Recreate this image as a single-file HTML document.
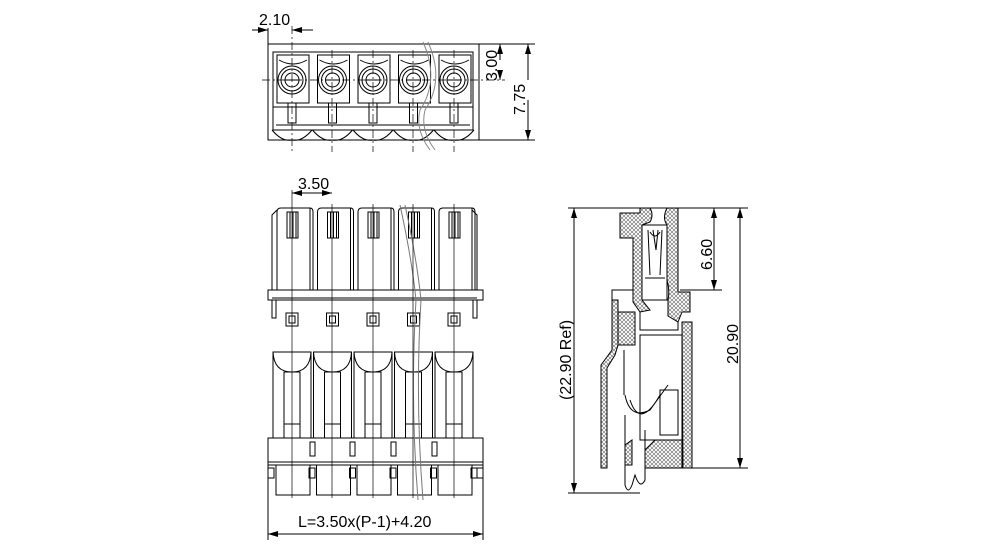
<!DOCTYPE html>
<html><head><meta charset="utf-8"><style>
html,body{margin:0;padding:0;background:#fff;}
svg{display:block;}
text{font-family:"Liberation Sans",sans-serif;fill:#000;}
</style></head><body>
<svg width="990" height="552" viewBox="0 0 990 552" xmlns="http://www.w3.org/2000/svg">
<defs>
<pattern id="h" width="4" height="4" patternUnits="userSpaceOnUse">
<rect width="4" height="4" fill="#fff"/>
<path d="M0 0L4 4M4 0L0 4" stroke="#666" stroke-width="0.6"/>
</pattern>
<marker id="a" viewBox="0 0 10 6" refX="10" refY="3" markerWidth="10" markerHeight="6" orient="auto-start-reverse"><path d="M0 0L10 3L0 6z" fill="#000"/></marker>
</defs>
<g fill="none" stroke="#000" stroke-width="1">
<!-- TOP VIEW -->
<rect x="268" y="44" width="211" height="96"/>
<rect x="273" y="52" width="200" height="78"/>
<line x1="273" y1="107" x2="473" y2="107"/>
<line x1="276" y1="125" x2="470" y2="125"/>
<g id="cellT">
<rect x="277" y="55" width="32" height="48"/>
<path d="M279 60 Q293 68 307 60"/>
<circle cx="292" cy="80" r="14"/><circle cx="292" cy="80" r="11"/><circle cx="292" cy="80" r="7"/>
<line x1="285" y1="80" x2="299" y2="80"/>
<rect x="288" y="103" width="8" height="20"/>
<path d="M272 130 Q282 142 292 140 Q302 142 312 130"/>
</g>
<use href="#cellT" x="40.5"/><use href="#cellT" x="81"/><use href="#cellT" x="121.5"/><use href="#cellT" x="162"/>
<path d="M423 42 Q440 80 420 110 Q415 130 430 150" stroke="#888"/>
<path d="M428 42 Q445 80 425 110 Q420 130 435 150" stroke="#888"/>
<g stroke-dasharray="8,3,2,3" stroke-width="0.7">
<line x1="292" y1="26" x2="292" y2="152"/><line x1="332" y1="50" x2="332" y2="152"/><line x1="373" y1="50" x2="373" y2="152"/><line x1="413" y1="50" x2="413" y2="152"/><line x1="454" y1="50" x2="454" y2="152"/>
<line x1="262" y1="80" x2="505" y2="80"/>
</g>
<line x1="268" y1="28" x2="268" y2="44"/>
<line x1="252" y1="30" x2="268" y2="30" marker-end="url(#a)"/>
<line x1="313" y1="30" x2="292" y2="30" marker-end="url(#a)"/>
<line x1="479" y1="44" x2="535" y2="44"/><line x1="479" y1="140" x2="535" y2="140"/>
<line x1="500" y1="60" x2="500" y2="44" marker-end="url(#a)"/>
<line x1="500" y1="70" x2="500" y2="80" marker-end="url(#a)"/>
<line x1="528" y1="80" x2="528" y2="44" marker-end="url(#a)"/>
<line x1="528" y1="100" x2="528" y2="140" marker-end="url(#a)"/>
<!-- FRONT VIEW -->
<g id="cellF">
<path d="M277 290 L277 212 Q277 208 281 208 L310 208 Q313 208 313 212 L313 290"/>
<line x1="310" y1="208" x2="310" y2="290"/>
<rect x="287" y="212" width="11" height="26"/>
<line x1="290" y1="212" x2="290" y2="238"/><line x1="293" y1="212" x2="293" y2="238"/><line x1="296" y1="212" x2="296" y2="238"/>
<rect x="286" y="313" width="12" height="13"/><rect x="289" y="316" width="6" height="7"/>
<rect x="273" y="352" width="38" height="86"/>
<path d="M273 352 Q274 372 292 372 Q310 372 311 352"/>
<rect x="284" y="372" width="16" height="66"/>
<rect x="284" y="424" width="16" height="14"/>
<rect x="276" y="465" width="34" height="30"/>
<rect x="309" y="468" width="6" height="10"/>
</g>
<use href="#cellF" x="40.5"/><use href="#cellF" x="81"/><use href="#cellF" x="121.5"/><use href="#cellF" x="162"/>
<path d="M272 290 L272 215 L277 210"/><path d="M477 290 L477 215 L472 210"/>
<rect x="268" y="290" width="215" height="10"/>
<line x1="272" y1="298" x2="477" y2="298"/>
<path d="M272 300 L272 318 L276 318 L276 300"/><path d="M477 300 L477 318 L473 318 L473 300"/>
<rect x="268" y="438" width="215" height="27"/>
<line x1="268" y1="462" x2="483" y2="462"/>
<rect x="268" y="468" width="6" height="10"/><rect x="477" y="468" width="6" height="10"/>
<rect x="310" y="442" width="5" height="14"/><rect x="350" y="442" width="5" height="14"/><rect x="391" y="442" width="5" height="14"/><rect x="432" y="442" width="5" height="14"/>
<path d="M400 205 Q412 260 416 300 Q410 400 418 500" stroke="#777"/>
<path d="M405 205 Q417 260 421 300 Q415 400 423 500" stroke="#777"/>
<g stroke-width="0.7">
<line x1="292" y1="190" x2="292" y2="498"/><line x1="332" y1="204" x2="332" y2="498"/><line x1="373" y1="204" x2="373" y2="498"/><line x1="413" y1="204" x2="413" y2="498"/><line x1="454" y1="204" x2="454" y2="498"/>
</g>
<line x1="312" y1="193" x2="292" y2="193" marker-end="url(#a)"/>
<line x1="312" y1="193" x2="332" y2="193" marker-end="url(#a)"/>
<line x1="268" y1="465" x2="268" y2="540"/><line x1="483" y1="465" x2="483" y2="540"/>
<line x1="375" y1="534" x2="268" y2="534" marker-end="url(#a)"/>
<line x1="375" y1="534" x2="483" y2="534" marker-end="url(#a)"/>
<!-- SIDE VIEW -->
<line x1="568" y1="208" x2="748" y2="208"/>
<line x1="568" y1="493" x2="640" y2="493"/>
<line x1="692" y1="468" x2="748" y2="468"/>
<line x1="680" y1="290" x2="722" y2="290"/>
<line x1="574" y1="350" x2="574" y2="208" marker-end="url(#a)"/>
<line x1="574" y1="350" x2="574" y2="493" marker-end="url(#a)"/>
<line x1="740" y1="340" x2="740" y2="208" marker-end="url(#a)"/>
<line x1="740" y1="340" x2="740" y2="468" marker-end="url(#a)"/>
<line x1="714" y1="250" x2="714" y2="208" marker-end="url(#a)"/>
<line x1="714" y1="250" x2="714" y2="290" marker-end="url(#a)"/>
<g fill="url(#h)">
<path d="M620 213 L640 213 L640 208 L650 208 Q654 215 650 222 L642 225 L642 300 L650 310 L640 312 L633 302 L633 238 L620 238 Z"/>
<path d="M667 208 L678 208 L678 292 L690 292 L690 312 L682 312 L678 322 L668 316 L668 300 Q670 290 667 280 L667 225 Q662 218 667 208 Z"/>
<path d="M682 322 L692 322 L692 468 L683 468 Z"/>
<path d="M612 300 L618 300 L618 345 L615 355 L607 368 L607 468 L601 468 L601 365 L612 350 Z"/>
<path d="M618 312 L635 312 L635 345 L618 345 Z"/>
<path d="M645 450 L655 440 L682 440 L682 468 L645 468 Z"/>
<path d="M625 445 L632 440 L632 465 L625 465 Z"/>
</g>
<path d="M612 300 L612 290 L633 290"/>
<rect x="642" y="225" width="25" height="75"/>
<path d="M648 230 L650 275 M662 230 L660 275 M650 232 Q655 240 660 232 M653 230 L656 250 L658 230"/>
<line x1="645" y1="278" x2="665" y2="278"/><line x1="645" y1="300" x2="665" y2="300"/>
<path d="M640 312 L640 330 L678 330 L678 322"/>
<rect x="640" y="335" width="42" height="105"/>
<path d="M625 395 Q630 420 650 410 L668 385 M630 400 Q640 430 660 395"/>
<path d="M625 415 L625 485 Q628 495 632 485 L635 475 Q640 490 645 480 L645 430"/>
<rect x="660" y="390" width="18" height="45"/>
<line x1="624" y1="350" x2="624" y2="395"/>
</g>
<text x="259" y="25" font-size="16">2.10</text>
<text x="298" y="189" font-size="16">3.50</text>
<text x="298" y="527" font-size="16">L=3.50x(P-1)+4.20</text>
<text transform="translate(497,81) rotate(-90)" font-size="16">3.00</text>
<text transform="translate(525,115) rotate(-90)" font-size="16">7.75</text>
<text transform="translate(571,400) rotate(-90)" font-size="16">(22.90 Ref)</text>
<text transform="translate(712,270) rotate(-90)" font-size="16">6.60</text>
<text transform="translate(738,364) rotate(-90)" font-size="16">20.90</text>
</svg>
</body></html>
